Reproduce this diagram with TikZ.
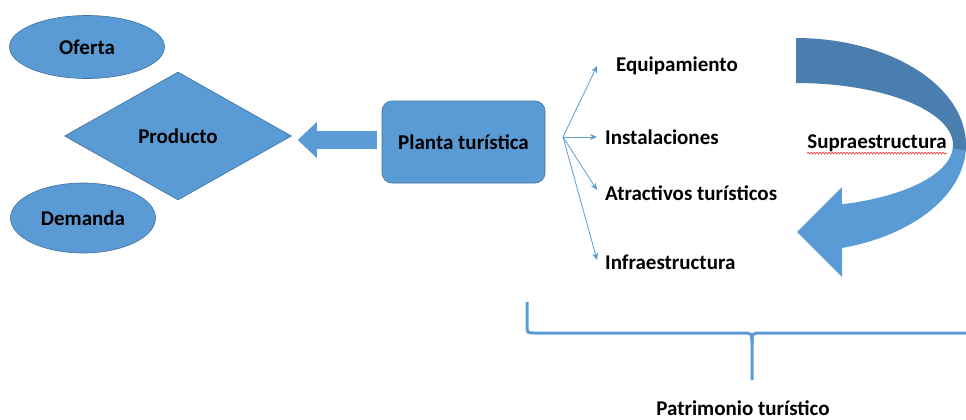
\documentclass[tikz,border=0pt]{standalone}
\usepackage{fontspec}
\setmainfont{Carlito}
\usepackage{xcolor}
\usetikzlibrary{shapes.geometric, arrows.meta, positioning, decorations.pathmorphing}

\definecolor{officeblue}{HTML}{5B9BD5}
\definecolor{officeedge}{HTML}{41719C}
\definecolor{officedark}{HTML}{4A7EAF}

\begin{document}
\begin{tikzpicture}[
    x=1pt, y=-1pt,
    lbl/.style={font=\fontsize{21}{24}\selectfont\bfseries, inner sep=0pt},
    oval/.style={ellipse, draw=officeedge, line width=0.6pt, fill=officeblue, lbl},
    rhomb/.style={diamond, draw=officeedge, line width=0.6pt, fill=officeblue, lbl},
    box/.style={draw=officeedge, line width=0.6pt, fill=officeblue, rounded corners=10pt, lbl},
    blockarr/.style={draw=officeblue, line width=18pt, -{Triangle[length=19pt, width=36pt, line width=0pt]}},
    fanarr/.style={draw=officeblue, line width=0.8pt, -{Stealth[length=7pt, width=6pt]}},
    brace/.style={draw=officeblue, line width=3pt}
]
\useasboundingbox (0,0) rectangle (966,420);

% Left side
\node[oval, minimum width=155pt, minimum height=63pt] (oferta) at (87,47) {Oferta};
\node[rhomb, minimum width=227pt, minimum height=128pt] (producto) at (178,136) {Producto};
\node[oval, minimum width=145pt, minimum height=70pt] (demanda) at (83,218) {Demanda};

% Planta
\node[box, minimum width=163pt, minimum height=82pt] (planta) at (463.5,142) {Planta turística};
\draw[blockarr] ([shift={(-5,-2)}]planta.west) -- ([shift={(6,-2)}]planta.west -| producto.east);

% Components
\coordinate (fan) at (563,137);
\node[lbl, anchor=west] (equip) at (616,66) {Equipamiento};
\node[lbl, right=42pt of fan, anchor=west] (inst) {Instalaciones};
\node[lbl, anchor=west] (atr) at (605,193) {Atractivos turísticos};
\node[lbl, anchor=west] (infra) at (605,262) {Infraestructura};

\draw[fanarr] (fan) -- ([xshift=-19pt]equip.west);
\draw[fanarr] (fan) -- ([xshift=-8pt]inst.west);
\draw[fanarr] (fan) -- ([shift={(-8,-3)}]atr.west);
\draw[fanarr] (fan) -- ([shift={(-8,-2)}]infra.west);

% Curved arrow
\fill[officedark] plot[variable=\t, domain=-90:4, samples=40] ({796+170*cos(\t)},{145+107*sin(\t)})
    -- plot[variable=\t, domain=4:-90, samples=40] ({796+157*cos(\t)},{145+62*sin(\t)}) -- cycle;
\fill[officeblue] plot[variable=\t, domain=3:74.3, samples=40] ({796+170*cos(\t)},{145+107*sin(\t)})
    -- (842,277) -- (797,232) -- (842,187)
    -- plot[variable=\t, domain=73:3, samples=40] ({796+157*cos(\t)},{145+62*sin(\t)}) -- cycle;
\node[lbl] (supra) at (877,143) {Supraestructura};
\draw[red, line width=0.5pt, decorate, decoration={snake, amplitude=0.8pt, segment length=3pt}]
    ([yshift=-1.5pt]supra.south west) -- ([yshift=-1.5pt]supra.south east);

% Brace
\coordinate (tip) at (752,380);
\draw[brace] (527,302) -- (527,325) .. controls (527,333) .. (535,333) -- (742,333)
    .. controls (752,333) .. (752,343) -- (tip);
\draw[brace] (752,343) .. controls (752,333) .. (762,333) -- (966,333);
\node[lbl] (patri) at (743,408) {Patrimonio turístico};

\end{tikzpicture}
\end{document}
